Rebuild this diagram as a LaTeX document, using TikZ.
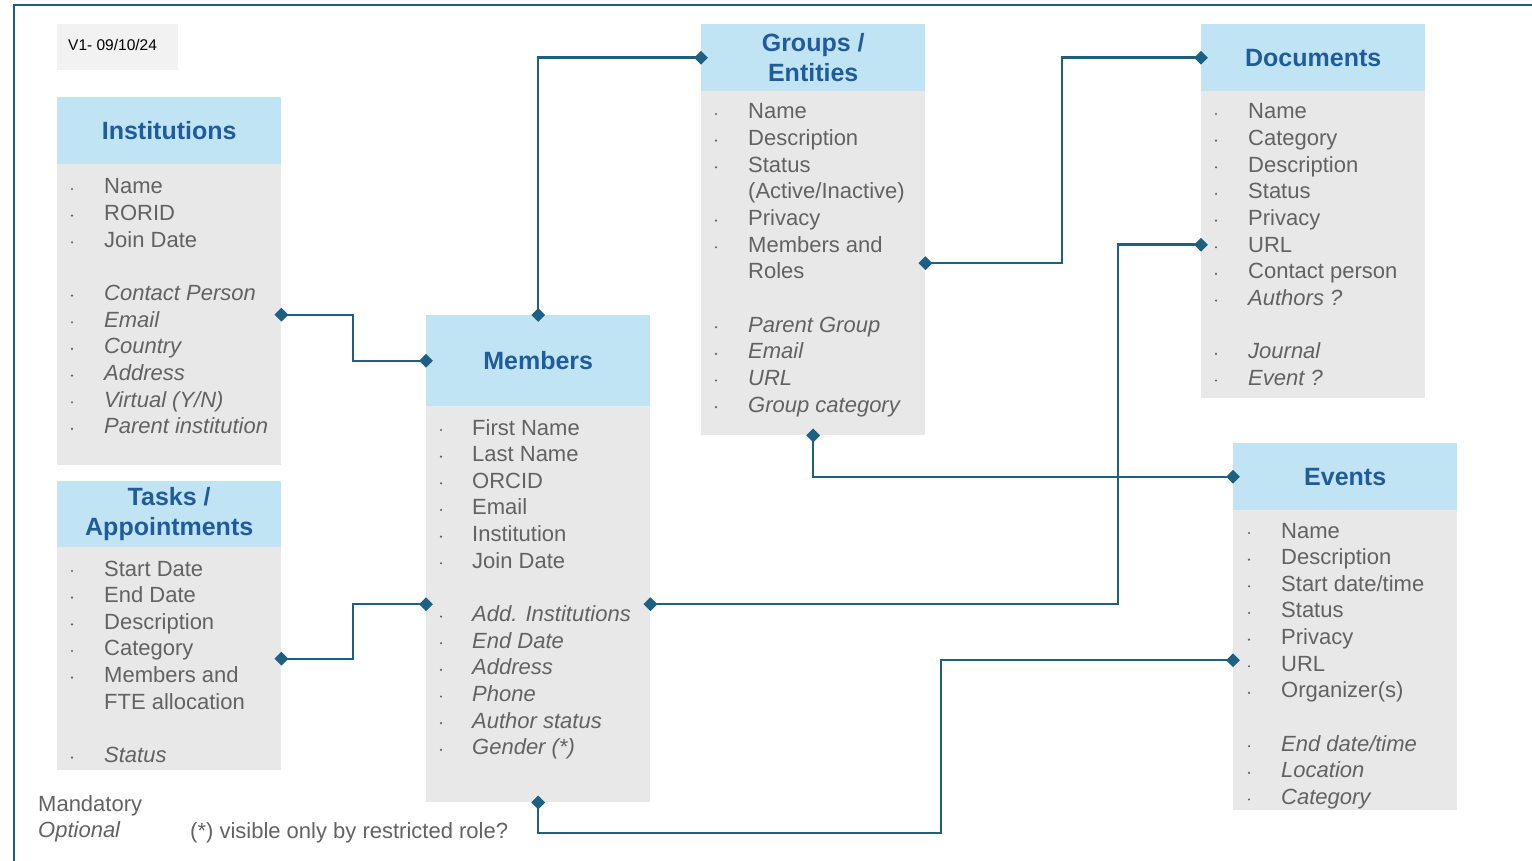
\documentclass[tikz,border=0pt]{standalone}
\usepackage{fontspec}
\setmainfont{Liberation Sans}
\usetikzlibrary{shapes.geometric}
\definecolor{hdr}{HTML}{C1E4F5}
\definecolor{bdy}{HTML}{E8E8E8}
\definecolor{ttl}{HTML}{1F5C99}
\definecolor{txt}{HTML}{626262}
\definecolor{lnk}{HTML}{1D6082}
\definecolor{frm}{HTML}{1B5F82}
\definecolor{ver}{HTML}{F2F2F2}
\tikzset{
  hbox/.style={fill=hdr, draw=none, anchor=north west, minimum width=224, inner sep=0,
    text=ttl, font=\fontsize{25}{30.5}\selectfont\bfseries, align=center},
  bbox/.style={fill=bdy, draw=none, anchor=north west, minimum width=224, inner sep=0},
  itm/.style={inner sep=0, text=txt, font=\fontsize{22}{26}\selectfont, anchor=base west},
  link/.style={draw=lnk, line width=2.4},
  dmd/.style={diamond, fill=lnk, draw=none, inner sep=0, minimum width=14, minimum height=14},
  frame/.style={draw=frm, line width=2}
}
\newcommand\itemlist[5]{%
  \foreach \k/\t [count=\i] in {#5} {
    \pgfmathsetmacro\yy{#4+(\i-1)*26.65}
    \if\k n\else\if\k x\else \fill[txt] (#2,\yy+3) circle (1.2);\fi\fi
    \if\k x\else \node[itm] (#1-\i) at (#3,\yy+8) {\if\k i\itshape\fi\t};\fi
  }}
\begin{document}
\begin{tikzpicture}[x=1pt,y=-1pt]
\useasboundingbox (0,0) rectangle (1532,861);
% frame
\draw[frame] (14,861) -- (14,5) -- (1532,5);
% version
\node[fill=ver, anchor=north west, minimum width=121, minimum height=46, inner sep=0] (verbox) at (57,24) {};
\node[inner sep=0, anchor=base west, font=\fontsize{15.5}{18}\selectfont] (vertext) at (68,50.5) {V1- 09/10/24};
% Institutions
\node[hbox, minimum height=67] (instH) at (57,97) {Institutions};
\node[bbox, minimum height=301] (instB) at (57,164) {};
% Tasks
\node[hbox, minimum height=66] (tskH) at (57,481) {Tasks /\\Appointments};
\node[bbox, minimum height=223] (tskB) at (57,547) {};
% Members
\node[hbox, minimum height=91] (memH) at (426,315) {Members};
\node[bbox, minimum height=396] (memB) at (426,406) {};
% Groups
\node[hbox, minimum height=67] (grpH) at (701,24) {Groups /\\Entities};
\node[bbox, minimum height=344] (grpB) at (701,91) {};
% Documents
\node[hbox, minimum height=67] (docH) at (1201,24) {Documents};
\node[bbox, minimum height=307] (docB) at (1201,91) {};
% Events
\node[hbox, minimum height=67] (evH) at (1233,443) {Events};
\node[bbox, minimum height=300] (evB) at (1233,510) {};
% items
\itemlist{inst}{72}{104}{186}{b/Name, b/RORID, b/Join Date, x/{}, i/Contact Person, i/Email, i/Country, i/Address, i/{Virtual (Y/N)}, i/Parent institution}
\itemlist{tsk}{72}{104}{568}{b/Start Date, b/End Date, b/Description, b/Category, b/Members and, n/FTE allocation, x/{}, i/Status}
\itemlist{mem}{441}{472}{427}{b/First Name, b/Last Name, b/ORCID, b/Email, b/Institution, b/Join Date, x/{}, i/Add. Institutions, i/End Date, i/Address, i/Phone, i/Author status, i/Gender (*)}
\itemlist{grp}{716}{748}{111}{b/Name, b/Description, b/Status, n/{(Active/Inactive)}, b/Privacy, b/Members and, n/Roles, x/{}, i/Parent Group, i/Email, i/URL, i/Group category}
\itemlist{doc}{1216}{1248}{111}{b/Name, b/Category, b/Description, b/Status, b/Privacy, b/URL, b/Contact person, i/Authors ?, x/{}, i/Journal, i/Event ?}
\itemlist{ev}{1249}{1281}{530}{b/Name, b/Description, b/{Start date/time}, b/Status, b/Privacy, b/URL, b/Organizer(s), x/{}, i/{End date/time}, i/Location, i/Category}
% legend
\node[itm] (legM) at (38,811) {Mandatory};
\node[itm] (legO) at (38,837) {\itshape Optional};
\node[itm] (legR) at (190,838) {(*) visible only by restricted role?};
% connectors
\coordinate (k1) at (353,0);
\coordinate (k4) at (1062,0);
\coordinate (k6) at (1118,0);
\coordinate (k7) at (941,833);
\draw[link] (instB.east) -- (instB.east -| k1) |- (memH.west);
\draw[link] (tskB.east) -- (tskB.east -| k1) |- (memB.west);
\draw[link] (memH.north) |- (grpH.west);
\draw[link] (grpB.east) -- (grpB.east -| k4) |- (docH.west);
\draw[link] (grpB.south) |- (evH.west);
\draw[link] (memB.east) -- (memB.east -| k6) |- (docB.west);
\draw[link] (memB.south) |- (k7) |- (evB.west);
% diamonds
\foreach \a [count=\j] in {instB.east, memH.west, tskB.east, memB.west, memH.north, grpH.west, grpB.east, docH.west, grpB.south, evH.west, memB.east, docB.west, memB.south, evB.west}
  \node[dmd] (d\j) at (\a) {};
\end{tikzpicture}
\end{document}
